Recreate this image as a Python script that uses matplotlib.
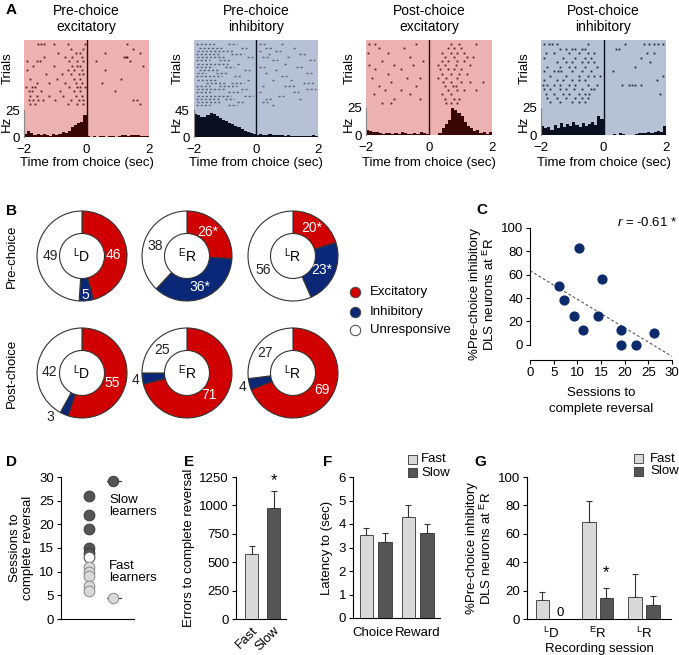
import numpy as np
import matplotlib
matplotlib.use('Agg')
import matplotlib.pyplot as plt
from matplotlib.patches import Rectangle

plt.rcParams['font.family'] = ['Liberation Sans', 'DejaVu Sans']
plt.rcParams['font.size'] = 8.5
plt.rcParams['mathtext.fontset'] = 'custom'
plt.rcParams['mathtext.rm'] = 'Liberation Sans'
plt.rcParams['mathtext.it'] = 'Liberation Sans:italic'
plt.rcParams['axes.linewidth'] = 0.8

W, H = 679, 655

# ---------------- panel A: PETH histograms (Hz, 0.1 s bins from -2 to 2) ----------------
hist_pre_exc = [3, 6, 4, 2, 3, 2, 3, 2, 1, 3, 2, 3, 5, 4, 6, 9, 11, 13, 14, 20,
                1, 0, 1, 0, 1, 1, 0, 1, 1, 0, 1, 2, 2, 1, 2, 2, 2, 1, 1, 1]
hist_pre_inh = [38, 36, 34, 33, 37, 40, 38, 35, 31, 28, 27, 24, 22, 18, 16, 13, 10, 8, 6, 5,
                4, 5, 3, 4, 5, 3, 4, 3, 4, 2, 3, 2, 2, 1, 1, 2, 1, 2, 3, 1]
hist_post_exc = [5, 4, 3, 3, 2, 1, 2, 2, 1, 2, 1, 3, 2, 1, 1, 2, 1, 3, 2, 1,
                 0, 0, 0, 2, 6, 10, 14, 25, 23, 20, 17, 12, 8, 6, 4, 5, 2, 3, 1, 3]
hist_post_inh = [8, 6, 7, 5, 9, 6, 11, 7, 10, 8, 12, 9, 7, 11, 8, 10, 12, 9, 17, 15,
                 0, 0, 0, 1, 0, 2, 1, 0, 0, 0, 1, 2, 2, 2, 3, 2, 3, 4, 3, 8]

# spike times per trial (s)
raster_pre_exc = [
    [-1.55, -1.45, -1.35, -1.05, -0.6, -0.05, 1.3],
    [-0.5, -0.1, 1.5],
    [-0.9, -0.35, -0.2, 0.6, 1.7],
    [-1.35, -0.7, -0.45, -0.15, 1.2, 1.25, 1.3],
    [-1.9, -1.6, -1.5, -0.55, -0.3, -0.1, 0.3, 1.4],
    [-1.7, -1.05, -0.45, -0.3, -0.2, 1.8],
    [-1.9, -0.6, -0.4, -0.15, 0.6],
    [-1.3, -0.8, -0.5, -0.25, -0.1],
    [-1.8, -0.95, -0.4, -0.2, 1.1],
    [-1.6, -1.2, -0.7, -0.35, -0.15, 0.5],
    [-1.95, -1.75, -1.65, -0.55, -0.3, -0.2, -0.05],
    [-1.85, -1.75, -1.45, -0.85, -0.4, -0.2, 0.9],
    [-1.8, -1.6, -1.2, -0.75, -0.35, -0.15],
    [-1.85, -1.7, -1.55, -1.4, -1.0, -0.5, -0.25, -0.1, 1.5, 1.6],
    [-1.8, -1.65, -0.6, -0.3, -0.1, 1.7],
]
# bursts per trial as (start, end) for the dense inhibitory raster
raster_pre_inh = [
    [(-1.95, -1.3), (-0.9, -0.6), (0.1, 0.3), (0.8, 0.9)],
    [(-1.85, -1.1), (-0.5, -0.3), (0.3, 0.5), (1.2, 1.3)],
    [(-1.9, -0.7), (0.1, 0.2), (0.6, 0.8)],
    [(-1.95, -1.2), (-0.8, -0.4), (0.4, 0.5), (1.4, 1.6)],
    [(-1.9, -1.0), (-0.3, -0.1), (0.2, 0.4), (1.0, 1.1)],
    [(-1.95, -1.5), (-1.2, -0.8), (0.5, 0.7), (1.7, 1.9)],
    [(-1.9, -0.9), (-0.6, -0.5), (0.9, 1.0)],
    [(-1.95, -1.4), (-1.0, -0.7), (0.1, 0.3), (1.3, 1.5)],
    [(-1.85, -1.2), (-0.4, -0.2), (0.6, 0.7)],
    [(-1.9, -1.6), (-1.3, -0.9), (0.3, 0.4), (1.6, 1.8)],
    [(-1.95, -1.1), (-0.7, -0.5), (0.8, 1.0)],
    [(-1.9, -1.3), (-0.3, -0.2), (0.5, 0.6), (1.1, 1.2)],
    [(-1.6, -1.0), (-0.8, -0.4), (1.5, 1.9)],
    [(-1.95, -1.5), (-1.2, -0.6), (0.2, 0.3), (0.9, 1.3)],
    [(-1.9, -1.0), (-0.5, -0.3), (1.6, 1.95)],
    [(-1.95, -1.4), (-0.9, -0.5), (0.1, 0.2), (1.2, 1.4)],
    [(-1.9, -0.8), (-0.4, -0.1), (0.7, 0.9)],
    [(-1.95, -1.2), (-1.0, -0.7), (0.3, 0.5), (1.4, 1.5)],
    [(-1.9, -1.1), (-0.6, -0.4), (0.2, 0.4)],
    [(-1.95, -1.5), (-0.9, -0.6), (0.5, 0.6)],
]
raster_post_exc = [
    [-1.9, -1.7, -0.4, 0.7, 0.95, 1.5],
    [-1.6, -0.8, 0.6, 0.8, 1.0],
    [-1.95, -1.3, 0.4, 0.7, 0.9, 1.1],
    [-0.6, 0.5, 0.8, 1.2, 1.4],
    [-1.5, -0.2, 0.4, 0.6, 0.9, 1.1],
    [-1.9, -1.1, -0.5, 0.3, 0.5, 0.85, 1.3],
    [-1.7, -0.9, 0.35, 0.6, 0.8, 1.0],
    [-1.3, 0.4, 0.7, 0.95, 1.2],
    [-1.8, -0.7, -0.3, 0.3, 0.55, 0.9],
    [-1.2, 0.45, 0.7, 1.0, 1.3, 1.7],
    [-1.6, -0.4, 0.5, 0.75, 0.85],
    [-1.4, -0.9, 0.6, 0.9, 1.1, 1.5],
    [-1.75, -0.6, 0.4, 0.7],
    [-1.1, -0.3, 0.5, 0.8, 0.95],
    [-1.5, -1.2, 0.55, 0.7, 0.9],
]
raster_post_inh = [
    [-1.9, -1.75, -1.65, -1.5, -0.5, 0.7, 1.3, 1.45, 1.6, 1.75, 1.9],
    [-1.4, -1.2, -1.0, -0.9, -0.7, -0.6, 0.4, 0.5],
    [-1.85, -1.6, -1.1, -0.8, -0.5, -0.3, 1.4, 1.6],
    [-1.9, -1.3, -0.9, -0.6, -0.4, 1.2],
    [-1.5, -1.2, -1.0, -0.7, -0.5, -0.3, 1.5],
    [-1.8, -1.4, -1.1, -0.9, -0.6, -0.2, 1.0],
    [-1.9, -1.6, -1.45, -1.35, -1.0, -0.7, -0.4, 0.3],
    [-1.7, -1.2, -0.8, -0.5, -0.3, -0.1, 1.9],
    [-1.9, -1.5, -1.3, -1.0, -0.8, -0.6, 1.7],
    [-1.95, -1.8, -1.6, -1.4, -1.1, -0.9, -0.5, -0.2, 0.6, 0.8, 0.9, 1.0, 1.2],
    [-1.9, -1.7, -1.4, -1.2, -0.95, -0.7, -0.4, -0.3],
    [-1.85, -1.6, -1.3, -1.1, -0.8, -0.6, -0.45, 1.8],
    [-1.8, -1.5, -1.2, -0.9, -0.7, -0.5],
    [-1.7, -1.4, -1.0, -0.8, -0.6],
]

# ---------------- panel B: % of neurons (excitatory, inhibitory, unresponsive) ----------------
donut_sessions = ['L D', 'E R', 'L R']
donut_pre = [[46, 5, 49], [26, 36, 38], [20, 23, 56]]
donut_post = [[55, 3, 42], [71, 4, 25], [69, 4, 27]]
star_pre = [[False, False, False], [True, True, False], [True, True, False]]
star_post = [[False, False, False], [False, False, False], [False, False, False]]

# ---------------- panel C ----------------
sessions_c = [6.2, 7.2, 9.3, 10.3, 11.2, 14.3, 15.2, 19.3, 19.3, 22.3, 26.2]
pct_inh_c = [50, 38.6, 24.8, 83, 12.4, 24.8, 56.6, 12.4, 0, 0, 9.9]
fit_x = [0, 30]
fit_y = [63.4, -9.9]

# ---------------- panel D ----------------
sessions_slow = [26, 22, 19, 15, 14]
sessions_mid = [13]
sessions_fast = [11, 10, 9, 7, 6]

# ---------------- panel E ----------------
groups = ['Fast', 'Slow']
errors_mean = [570, 975]
errors_sem = [70, 150]

# ---------------- panel F ----------------
latency_events = ['Choice', 'Reward']
latency_fast = [3.55, 4.3]
latency_fast_sem = [0.3, 0.5]
latency_slow = [3.25, 3.6]
latency_slow_sem = [0.35, 0.38]

# ---------------- panel G ----------------
sessions_g = ['L D', 'E R', 'L R']
pct_fast = [13.4, 68.5, 15.7]
pct_fast_sem = [5.4, 14.8, 15.8]
pct_slow = [0, 14.8, 9.6]
pct_slow_sem = [0, 7.2, 6.6]

# colours
PINK, BLUEGRAY = '#ecb1b1', '#b6c1d5'
DARKRED, NAVY = '#3a0707', '#0b1020'
RED, BLUE = '#d00000', '#0b2878'
LIGHT, DARK = '#d9d9d9', '#555555'
EDGE = '#333333'

fig = plt.figure(figsize=(W / 100, H / 100), dpi=100)


def px_axes(x0, y0, x1, y1):
    return fig.add_axes([x0 / W, 1 - y1 / H, (x1 - x0) / W, (y1 - y0) / H])


def sup(label):
    a, b = label.split()
    return r'$^{\mathrm{%s}}$%s' % (a, b)


overlay = fig.add_axes([0, 0, 1, 1], zorder=20)
overlay.set_xlim(0, W)
overlay.set_ylim(H, 0)
overlay.axis('off')


def ptext(x, y, s, **kw):
    kw.setdefault('ha', 'center')
    kw.setdefault('va', 'center')
    overlay.text(x, y, s, **kw)


# ---------------- A ----------------
time_edges = np.arange(-2.0, 2.0, 0.1)


def draw_raster(box, hist, rows, ymax, tick, bg, fg, title, segments=False):
    ax = px_axes(*box)
    ax.set_facecolor(bg)
    ax.bar(time_edges, hist, width=0.1, align='edge', color=fg, lw=0)
    top = ymax * 0.955
    step = (ymax * 0.66) / len(rows)
    for k, row in enumerate(rows):
        y = top - k * step
        if segments:
            ax.hlines([y] * len(row), [s for s, e in row], [e for s, e in row],
                      colors=fg, lw=1.0, linestyles=(0, (1.5, 1.5)), alpha=0.55)
        else:
            ax.plot(row, [y] * len(row), ls='', marker='s', ms=1.3, mew=0,
                    color=fg, alpha=0.85)
    ax.axvline(0, color=fg, lw=1)
    ax.set_xlim(-2, 2)
    ax.set_ylim(0, ymax)
    ax.set_xticks([-2, 0, 2])
    ax.set_yticks([0, tick])
    for s in ['top', 'right', 'bottom']:
        ax.spines[s].set_visible(False)
    ax.spines['left'].set_bounds(0, tick)
    ax.spines['left'].set_color('#888888')
    ax.tick_params(axis='x', length=0, pad=5, labelsize=9.5)
    ax.tick_params(axis='y', length=0, pad=3, labelsize=9.5)
    cx = (box[0] + box[2]) / 2
    ptext(cx, 19, title, fontsize=10, linespacing=1.1)
    ptext(cx, 163, 'Time from choice (sec)', fontsize=9.5)
    ptext(box[0] - 16, 68, 'Trials', rotation=90, fontsize=9.5)
    ptext(box[0] - 17, 124, 'Hz', rotation=90, fontsize=9.5)


draw_raster((24, 40, 149, 137), hist_pre_exc, raster_pre_exc, 90, 25, PINK, DARKRED,
            'Pre-choice\nexcitatory')
draw_raster((194, 40, 318, 137), hist_pre_inh, raster_pre_inh, 162, 45, BLUEGRAY, NAVY,
            'Pre-choice\ninhibitory', segments=True)
draw_raster((366, 40, 492, 135), hist_post_exc, raster_post_exc, 87, 25, PINK, DARKRED,
            'Post-choice\nexcitatory')
draw_raster((541, 40, 666, 135), hist_post_inh, raster_post_inh, 87, 25, BLUEGRAY, NAVY,
            'Post-choice\ninhibitory')

# ---------------- B ----------------
R = 45.0
label_pos_pre = [[(31, -1), (3, 39), (-32, 0)],
                 [(21, -24), (13, 31), (-32, -10)],
                 [(19, -28), (29, 14), (-30, 14)]]
label_pos_post = [[(30, 10), (-32, 44), (-33, -1)],
                  [(22, 22), (-52, 7), (-25, -23)],
                  [(29, 17), (-50, 14), (-28, -20)]]
centers_x = [82, 187, 293]


def draw_donut(cx, cy, vals, stars, positions, session):
    ax = px_axes(cx - 55, cy - 55, cx + 55, cy + 55)
    ax.pie(vals, colors=[RED, BLUE, 'white'], startangle=90, counterclock=False,
           radius=1, wedgeprops=dict(width=0.5, edgecolor=EDGE, linewidth=0.8))
    ax.set_xlim(-55 / R, 55 / R)
    ax.set_ylim(-55 / R, 55 / R)
    ax.axis('off')
    for i, (v, st, (dx, dy)) in enumerate(zip(vals, stars, positions)):
        inside = (dx * dx + dy * dy) ** 0.5 < R
        col = 'white' if (i < 2 and inside) else '#222222'
        ax.text(dx / R, -dy / R, f'{v}*' if st else f'{v}', color=col, fontsize=10,
                ha='center', va='center', clip_on=False)
    ax.text(0, 0, sup(session), fontsize=10, ha='center', va='center')


for j in range(3):
    draw_donut(centers_x[j], 256, donut_pre[j], star_pre[j], label_pos_pre[j], donut_sessions[j])
    draw_donut(centers_x[j], 373, donut_post[j], star_post[j], label_pos_post[j], donut_sessions[j])

ptext(12, 256, 'Pre-choice', rotation=90, fontsize=9.5)
ptext(12, 373, 'Post-choice', rotation=90, fontsize=9.5)

for y, c, name in [(292, RED, 'Excitatory'), (312, BLUE, 'Inhibitory'), (330, 'white', 'Unresponsive')]:
    overlay.plot([355], [y], marker='o', ms=7.5, mfc=c, mec='#444444', mew=0.7)
    ptext(370, y, name, ha='left', fontsize=9.5)

# ---------------- C ----------------
axc = px_axes(530, 228, 672, 360)
axc.scatter(sessions_c, pct_inh_c, s=40, color='#0d2a6b', zorder=3)
axc.plot(fit_x, fit_y, ls=(0, (2.5, 2)), color='#555555', lw=0.8)
axc.set_xlim(0, 30)
axc.set_ylim(-13, 100)
axc.set_xticks(range(0, 31, 5))
axc.set_yticks(range(0, 101, 20))
axc.spines['top'].set_visible(False)
axc.spines['right'].set_visible(False)
axc.spines['left'].set_bounds(0, 100)
axc.tick_params(labelsize=9.5, length=3, pad=2)
axc.set_ylabel('%Pre-choice inhibitory\nDLS neurons at ' + sup('E R'), fontsize=9.5,
               labelpad=3, linespacing=1.05)
axc.set_xlabel('Sessions to\ncomplete reversal', fontsize=9.5, labelpad=6, linespacing=1.4)
ptext(647, 222, '$r$ = -0.61 *', fontsize=9.5)

# ---------------- D ----------------
axd = px_axes(61, 477, 134, 619)
axd.scatter([0.38] * len(sessions_slow), sessions_slow, s=60, color=DARK,
            edgecolor='#3a3a3a', lw=0.7, zorder=3)
axd.scatter([0.38] * len(sessions_mid), sessions_mid, s=60, color='white',
            edgecolor='#555555', lw=0.8, zorder=3)
axd.scatter([0.38] * len(sessions_fast), sessions_fast, s=60, color=LIGHT,
            edgecolor='#888888', lw=0.7, zorder=3)
axd.set_xlim(0, 1)
axd.set_ylim(0, 30)
axd.set_xticks([])
axd.set_yticks(range(0, 31, 5))
axd.spines['top'].set_visible(False)
axd.spines['right'].set_visible(False)
axd.tick_params(labelsize=9.5, length=3, pad=2)
axd.set_ylabel('Sessions to\ncomplete reversal', fontsize=9.5, labelpad=4, linespacing=1.1)
overlay.plot([107, 121], [481, 481], color='#333333', lw=0.8)
overlay.plot([113], [481], marker='o', ms=7.5, mfc=DARK, mec='#3a3a3a', mew=0.7)
overlay.plot([107, 121], [598, 598], color='#333333', lw=0.8)
overlay.plot([113], [598], marker='o', ms=7.5, mfc=LIGHT, mec='#888888', mew=0.7)
ptext(109, 506, 'Slow\nlearners', ha='left', fontsize=9.5, linespacing=1.1)
ptext(109, 572, 'Fast\nlearners', ha='left', fontsize=9.5, linespacing=1.1)


def style_bar_axes(ax):
    ax.spines['top'].set_visible(False)
    ax.spines['right'].set_visible(False)
    ax.tick_params(labelsize=9.5, length=3, pad=2)


# ---------------- E ----------------
axe = px_axes(236, 477, 286, 619)
xe = np.arange(len(groups))
axe.bar(xe, errors_mean, width=0.6, color=[LIGHT, DARK], edgecolor=EDGE, lw=0.6, zorder=3)
axe.errorbar(xe, errors_mean, yerr=[[0, 0], errors_sem], fmt='none', ecolor=EDGE,
             elinewidth=0.8, capsize=2, capthick=0.8, zorder=2)
axe.set_xlim(-0.7, 1.55)
axe.set_ylim(0, 1250)
axe.set_yticks(range(0, 1251, 250))
axe.set_xticks(xe)
axe.set_xticklabels(groups, rotation=45, ha='right', rotation_mode='anchor')
style_bar_axes(axe)
axe.tick_params(axis='x', length=0, pad=4)
axe.set_ylabel('Errors to complete reversal', fontsize=9.5, labelpad=3)
axe.text(1, errors_mean[1] + errors_sem[1] + 90, '*', fontsize=12, ha='center', va='center')

# ---------------- F ----------------
axf = px_axes(353, 477, 440, 618)
xf = np.arange(len(latency_events))
axf.bar(xf - 0.22, latency_fast, width=0.32, color=LIGHT, edgecolor=EDGE, lw=0.6, zorder=3)
axf.bar(xf + 0.22, latency_slow, width=0.32, color=DARK, edgecolor=EDGE, lw=0.6, zorder=3)
axf.errorbar(xf - 0.22, latency_fast, yerr=[[0, 0], latency_fast_sem], fmt='none',
             ecolor=EDGE, elinewidth=0.8, capsize=2, capthick=0.8, zorder=2)
axf.errorbar(xf + 0.22, latency_slow, yerr=[[0, 0], latency_slow_sem], fmt='none',
             ecolor=EDGE, elinewidth=0.8, capsize=2, capthick=0.8, zorder=2)
axf.set_xlim(-0.54, 1.53)
axf.set_ylim(0, 6)
axf.set_yticks(range(0, 7))
axf.set_xticks(xf)
style_bar_axes(axf)
axf.tick_params(axis='x', length=0)
axf.set_xticklabels([])
axf.set_ylabel('Latency to (sec)', fontsize=9.5, labelpad=4)
ptext(373, 633, latency_events[0], fontsize=9.5)
ptext(418, 633, latency_events[1], fontsize=9.5)

# ---------------- G ----------------
axg = px_axes(527, 477, 671, 619)
xg = np.arange(len(sessions_g))
axg.bar(xg - 0.19, pct_fast, width=0.29, color=LIGHT, edgecolor=EDGE, lw=0.6, zorder=3)
axg.bar(xg + 0.19, pct_slow, width=0.29, color=DARK, edgecolor=EDGE, lw=0.6, zorder=3)
axg.errorbar(xg - 0.19, pct_fast, yerr=[[0] * 3, pct_fast_sem], fmt='none',
             ecolor=EDGE, elinewidth=0.8, capsize=2, capthick=0.8, zorder=2)
axg.errorbar((xg + 0.19)[1:], pct_slow[1:], yerr=[[0, 0], pct_slow_sem[1:]], fmt='none',
             ecolor=EDGE, elinewidth=0.8, capsize=2, capthick=0.8, zorder=2)
axg.set_xlim(-0.52, 2.58)
axg.set_ylim(0, 100)
axg.set_yticks(range(0, 101, 20))
axg.set_xticks(xg)
axg.set_xticklabels([sup(s) for s in sessions_g])
style_bar_axes(axg)
axg.tick_params(axis='x', length=0, pad=5)
axg.set_xlabel('Recording session', fontsize=9.5, labelpad=1)
axg.set_ylabel('%Pre-choice inhibitory\nDLS neurons at ' + sup('E R'), fontsize=9.5,
               labelpad=3, linespacing=1.05)
axg.text(0.19, pct_slow[0] + 4.5, '0', fontsize=9.5, ha='center', va='center')
axg.text(1.19, pct_slow[1] + pct_slow_sem[1] + 11, '*', fontsize=12, ha='center', va='center')

# legends for F and G
for (lx, ly, tx) in [(408, 455, 421), (634, 454, 650)]:
    for k, (c, name) in enumerate([(LIGHT, 'Fast'), (DARK, 'Slow')]):
        overlay.add_patch(Rectangle((lx, ly + k * 13), 9, 9, facecolor=c, edgecolor=EDGE, lw=0.6))
        ptext(tx, ly + 4.5 + k * 13, name, ha='left', fontsize=9.5)

# panel letters
for letter, x, y in [('A', 6, 10), ('B', 6, 211), ('C', 476, 210), ('D', 6, 462),
                     ('E', 184, 462), ('F', 323, 462), ('G', 474, 462)]:
    ptext(x, y, letter, ha='left', fontsize=11, fontweight='bold')

fig.savefig('out.png', dpi=100)
